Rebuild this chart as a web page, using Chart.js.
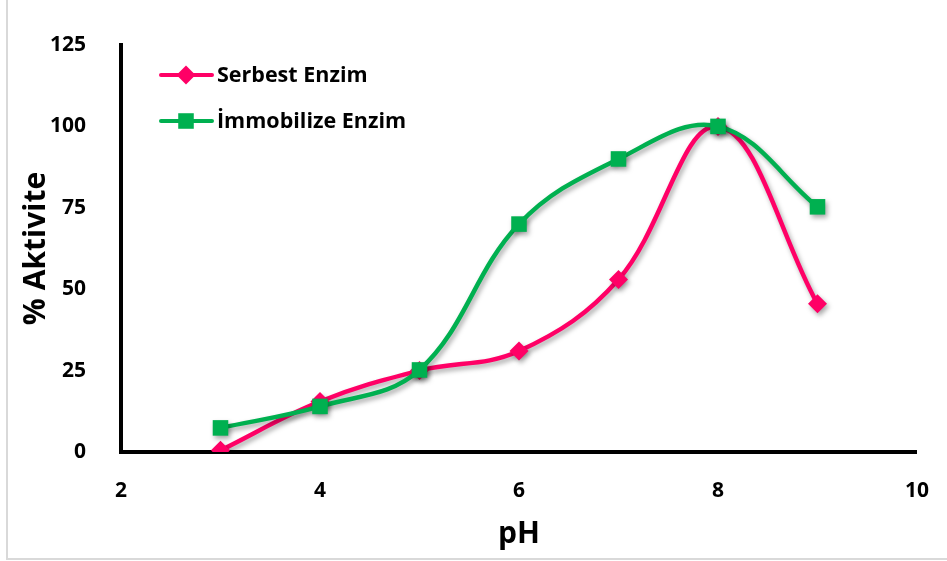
<!DOCTYPE html>
<html lang="tr">
<head>
  <meta charset="UTF-8" />
  <title>pH Aktivite</title>
  <script src="https://cdn.jsdelivr.net/npm/chart.js"></script>
  <style>
    body {
      margin: 0;
      padding: 0;
      background: #fff;
    }
    .frame {
      position: absolute;
      left: 6px;
      top: -2px;
      width: 950px;
      height: 558px;
      border: 2px solid #d9d9d9;
    }
    .wrap {
      position: absolute;
      left: 0;
      top: 0;
      width: 947px;
      height: 561px;
    }
  </style>
</head>
<body>
  <div class="frame"></div>
  <div class="wrap">
    <canvas id="phChart" width="947" height="561"></canvas>
  </div>

  <script>
    const phValues = [3, 4, 5, 6, 7, 8, 9];
    const serbest = [0.5, 15.5, 25, 31, 53, 100, 45.5];
    const immobilize = [7.4, 14, 25.2, 70, 90, 100, 75.3];
    const xTicks = [2, 4, 6, 8, 10];
    const yTicks = [0, 25, 50, 75, 100, 125];

    const PINK = "#ff0066";
    const GREEN = "#00b050";
    const FONT = "'Open Sans', sans-serif";

    const toPoints = vals => phValues.map((x, i) => ({ x, y: vals[i] }));

    // soft drop shadow under the lines and markers
    const shadowPlugin = {
      id: "shadow",
      beforeDatasetsDraw(chart) {
        const ctx = chart.ctx;
        ctx.save();
        ctx.shadowColor = "rgba(0,0,0,0.35)";
        ctx.shadowBlur = 5;
        ctx.shadowOffsetX = 2;
        ctx.shadowOffsetY = 3;
      },
      afterDatasetsDraw(chart) {
        chart.ctx.restore();
      }
    };

    // legend entries: line with marker in the middle, then the label
    const legendPlugin = {
      id: "lineLegend",
      afterDraw(chart) {
        const ctx = chart.ctx;
        const rows = [
          { label: "Serbest Enzim", color: PINK, style: "rectRot", r: 9.5, y: 75 },
          { label: "İmmobilize Enzim", color: GREEN, style: "rect", r: 11, y: 121 }
        ];
        ctx.save();
        rows.forEach(row => {
          ctx.strokeStyle = row.color;
          ctx.lineWidth = 4;
          ctx.lineCap = "round";
          ctx.beginPath();
          ctx.moveTo(161, row.y);
          ctx.lineTo(212, row.y);
          ctx.stroke();
          ctx.fillStyle = row.color;
          Chart.helpers.drawPoint(ctx, { pointStyle: row.style, radius: row.r, borderWidth: 0 }, 186, row.y);
          ctx.fillStyle = "#000";
          ctx.font = "bold 21.5px " + FONT;
          ctx.textBaseline = "middle";
          ctx.fillText(row.label, 217, row.y + 1);
        });
        ctx.restore();
      }
    };

    const ctx = document.getElementById("phChart").getContext("2d");
    new Chart(ctx, {
      type: "line",
      data: {
        datasets: [
          {
            label: "Serbest Enzim",
            data: toPoints(serbest),
            borderColor: PINK,
            backgroundColor: PINK,
            borderWidth: 4.5,
            pointStyle: "rectRot",
            pointRadius: 9.5,
            pointBorderWidth: 0,
            tension: 0.38,
            order: 2
          },
          {
            label: "İmmobilize Enzim",
            data: toPoints(immobilize),
            borderColor: GREEN,
            backgroundColor: GREEN,
            borderWidth: 4.5,
            pointStyle: "rect",
            pointRadius: 11,
            pointBorderWidth: 0,
            tension: 0.38,
            order: 1
          }
        ]
      },
      options: {
        responsive: false,
        animation: false,
        layout: { padding: { top: 45, right: 29, left: 0, bottom: 0 } },
        plugins: {
          legend: { display: false },
          tooltip: { enabled: false }
        },
        scales: {
          x: {
            type: "linear",
            min: 2,
            max: 10,
            afterBuildTicks: axis => { axis.ticks = xTicks.map(v => ({ value: v })); },
            afterFit: axis => { axis.height = 109; },
            grid: { display: false },
            border: { display: true, color: "#000", width: 4 },
            ticks: {
              color: "#000",
              padding: 18,
              font: { family: FONT, size: 21, weight: "bold" }
            },
            title: {
              display: true,
              text: "pH",
              color: "#000",
              padding: { top: 6, bottom: 9 },
              font: { family: FONT, size: 30, weight: "bold" }
            }
          },
          y: {
            min: 0,
            max: 125,
            afterBuildTicks: axis => { axis.ticks = yTicks.map(v => ({ value: v })); },
            afterFit: axis => { axis.width = 121; },
            grid: { display: false },
            border: { display: true, color: "#000", width: 4 },
            ticks: {
              color: "#000",
              padding: 27,
              font: { family: FONT, size: 21, weight: "bold" }
            },
            title: {
              display: true,
              text: "% Aktivite",
              color: "#000",
              padding: { top: 18, bottom: 0 },
              font: { family: FONT, size: 30, weight: "bold" }
            }
          }
        }
      },
      plugins: [shadowPlugin, legendPlugin]
    });
  </script>
</body>
</html>
